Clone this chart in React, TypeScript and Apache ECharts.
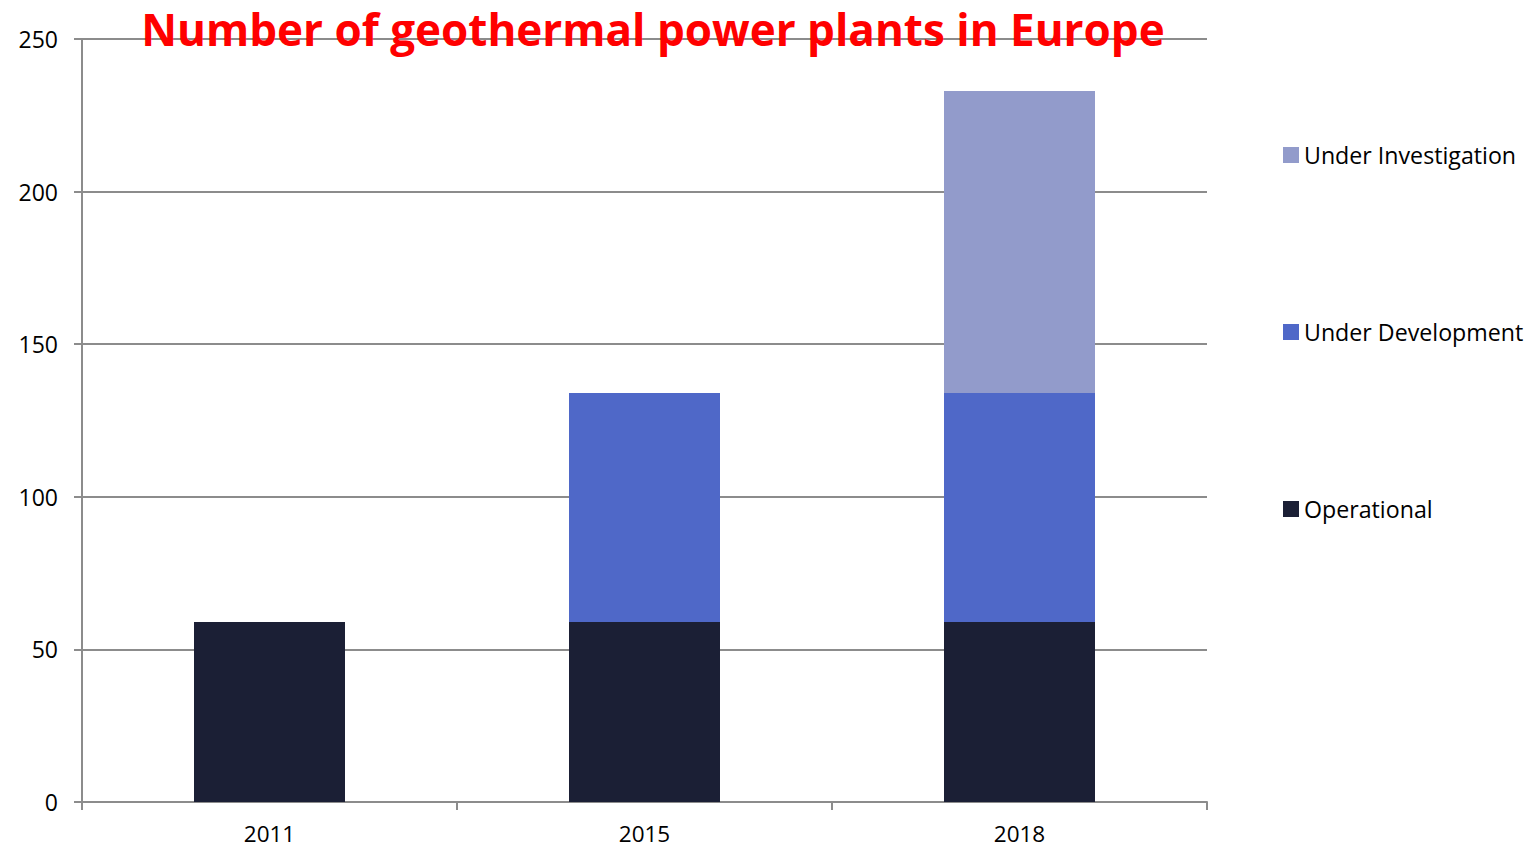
import React, { useEffect, useRef } from "react";
import * as echarts from "echarts";

const categories = ["2011", "2015", "2018"];
const operational = [59, 59, 59];
const underDevelopment = [0, 75, 75];
const underInvestigation = [0, 0, 99];
const legendOrder = ["Under Investigation", "Under Development", "Operational"];

export default function App() {
  const ref = useRef<HTMLDivElement>(null);
  useEffect(() => {
    if (!ref.current) return;
    const chart = echarts.init(ref.current, null, { renderer: "svg" });
    const font = "'Open Sans', sans-serif";
    chart.setOption({
      animation: false,
      backgroundColor: "#ffffff",
      title: {
        text: "Number of geothermal power plants in Europe",
        left: 653,
        textAlign: "center",
        top: 7,
        padding: 0,
        textStyle: { color: "#ff0000", fontSize: 44, lineHeight: 44, fontWeight: "bold", fontFamily: font },
      },
      legend: {
        orient: "vertical",
        left: 1278,
        top: 138,
        itemWidth: 16,
        itemHeight: 16,
        itemGap: 153,
        icon: "rect",
        data: legendOrder,
        textStyle: { fontSize: 23.2, color: "#000", fontFamily: font, lineHeight: 24 },
      },
      grid: { left: 82, right: 331, top: 39, bottom: 45, containLabel: false },
      xAxis: {
        type: "category",
        data: categories,
        axisLine: { lineStyle: { color: "#8c8c8c", width: 2 } },
        axisTick: { show: true, length: 8, lineStyle: { color: "#8c8c8c", width: 2 } },
        axisLabel: { fontSize: 22.5, lineHeight: 22, color: "#000", fontFamily: font, margin: 20 },
      },
      yAxis: {
        type: "value",
        min: 0,
        max: 250,
        interval: 50,
        axisLine: { show: true, lineStyle: { color: "#8c8c8c", width: 2 } },
        axisTick: { show: true, length: 8, lineStyle: { color: "#8c8c8c", width: 2 } },
        splitLine: { lineStyle: { color: "#8c8c8c", width: 2 } },
        axisLabel: { fontSize: 23, color: "#000", fontFamily: font, margin: 24 },
      },
      series: [
        {
          name: "Operational",
          type: "bar",
          stack: "total",
          barWidth: 151,
          data: operational,
          itemStyle: { color: "#1b1f35" },
        },
        {
          name: "Under Development",
          type: "bar",
          stack: "total",
          barWidth: 151,
          data: underDevelopment,
          itemStyle: { color: "#4f68c8" },
        },
        {
          name: "Under Investigation",
          type: "bar",
          stack: "total",
          barWidth: 151,
          data: underInvestigation,
          itemStyle: { color: "#929bcb" },
        },
      ],
    });
    return () => chart.dispose();
  }, []);
  return (
    <div
      ref={ref}
      style={{ position: "fixed", left: 0, top: 0, width: 1538, height: 847, background: "#fff" }}
    />
  );
}
